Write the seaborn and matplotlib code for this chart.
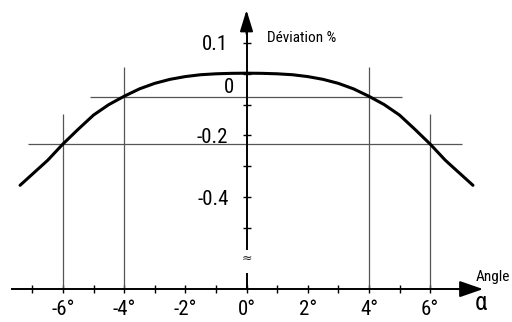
import matplotlib
matplotlib.use("Agg")
import matplotlib.pyplot as plt
import seaborn as sns
import numpy as np
import pandas as pd
from matplotlib.patches import Rectangle

# ---- data ----
angles = [-7.4, -7.0, -6.5, -6.0, -5.5, -5.0, -4.5, -4.0, -3.5, -3.0, -2.5, -2.0, -1.5, -1.0, -0.5, 0.0,
          0.5, 1.0, 1.5, 2.0, 2.5, 3.0, 3.5, 4.0, 4.5, 5.0, 5.5, 6.0, 6.5, 7.0, 7.4]
deviation = [-0.362, -0.326, -0.281, -0.228, -0.180, -0.134, -0.100, -0.073, -0.049, -0.031, -0.018,
             -0.009, -0.003, 0.000, 0.0015, 0.002,
             0.0015, 0.000, -0.003, -0.009, -0.018, -0.031, -0.049, -0.073, -0.100, -0.134, -0.180,
             -0.228, -0.281, -0.326, -0.362]

x_major = [-6, -4, -2, 0, 2, 4, 6]
x_major_labels = ["-6°", "-4°", "-2°", "0°", "2°", "4°", "6°"]
x_minor = [-7, -5, -3, -1, 1, 3, 5, 7]
y_ticks = [0.1, 0.0, -0.1, -0.2, -0.3, -0.4, -0.5]
y_tick_labels = ["0.1", "", "", "-0.2", "", "-0.4", ""]

ref_angles = [-6, -4, 4, 6]
ref_tops = [-0.1305, 0.022, 0.022, -0.1305]
ref_levels = [-0.075, -0.228]
ref_level_left = [-5.11, -7.14]
ref_level_right = [5.07, 7.03]

x_axis_level = -0.699
x_axis_start = -7.65
x_tip = 7.73
y_tip = 0.207
gap_low, gap_high = -0.647, -0.572

df = pd.DataFrame({"angle": angles, "dev": deviation})

sns.set_theme(style="white")
plt.rcParams["font.family"] = ["Liberation Sans Narrow", "Roboto Condensed", "Open Sans Condensed",
                               "Liberation Sans", "DejaVu Sans"]

fig = plt.figure(figsize=(5.12, 3.22), dpi=100)
ax = fig.add_axes([0, 0, 1, 1])
ax.set_xlim(-8.056, 8.676)
ax.set_ylim(-0.8058, 0.2396)
ax.set_facecolor("white")

grey = "#555555"
# reference lines
ax.vlines(ref_angles, x_axis_level, ref_tops, color=grey, lw=0.9, zorder=1)
ax.hlines(ref_levels, ref_level_left, ref_level_right, color=grey, lw=0.9, zorder=1)

# curve
sns.lineplot(data=df, x="angle", y="dev", ax=ax, color="black", lw=2.2, zorder=4)
ax.set_xlabel("")
ax.set_ylabel("")

# axes spines
for s in ["top", "right"]:
    ax.spines[s].set_visible(False)
ax.spines["left"].set_position(("data", 0))
ax.spines["bottom"].set_position(("data", x_axis_level))
ax.spines["left"].set_bounds(x_axis_level, 0.16)
ax.spines["bottom"].set_bounds(x_axis_start, 7.2)
for s in ["left", "bottom"]:
    ax.spines[s].set_color("black")
    ax.spines[s].set_linewidth(1.4)
    ax.spines[s].set_zorder(2.5)

ax.set_xticks(x_major)
ax.set_xticklabels(x_major_labels)
ax.set_xticks(x_minor, minor=True)
ax.set_yticks(y_ticks)
ax.set_yticklabels(y_tick_labels)
ax.tick_params(axis="both", which="both", direction="inout", length=6, width=1.0, color="black",
               labelsize=15, labelcolor="black")
ax.tick_params(axis="x", which="both", pad=5)
ax.tick_params(axis="y", which="both", pad=10)
ax.tick_params(axis="both", which="both", bottom=True, left=True)

# y-axis break
ax.add_patch(Rectangle((-0.3, gap_low), 0.6, gap_high - gap_low, facecolor="white",
                       edgecolor="none", zorder=3))
ax.text(0, (gap_low + gap_high) / 2 + 0.012, "≈", ha="center", va="center", fontsize=9,
        family=["DejaVu Sans"], zorder=5)

# arrows
ax.annotate("", xy=(x_tip, x_axis_level), xytext=(6.9, x_axis_level),
            arrowprops=dict(arrowstyle="-|>,head_length=0.72,head_width=0.25", color="black",
                            lw=1.4, shrinkA=0, shrinkB=0, mutation_scale=20), zorder=6)
ax.annotate("", xy=(0, y_tip), xytext=(0, 0.13),
            arrowprops=dict(arrowstyle="-|>,head_length=0.65,head_width=0.2", color="black",
                            lw=1.4, shrinkA=0, shrinkB=0, mutation_scale=20), zorder=6)

# labels
ax.text(-0.40, -0.046, "0", ha="right", va="center", fontsize=15, color="black")
ax.text(0.67, 0.115, "Déviation %", ha="left", va="center", fontsize=11, color="black")
ax.text(7.50, -0.659, "Angle", ha="left", va="center", fontsize=11, color="black")
ax.text(7.45, -0.705, "α", ha="left", va="top", fontsize=18, color="black")

fig.savefig("out.png", dpi=100)
